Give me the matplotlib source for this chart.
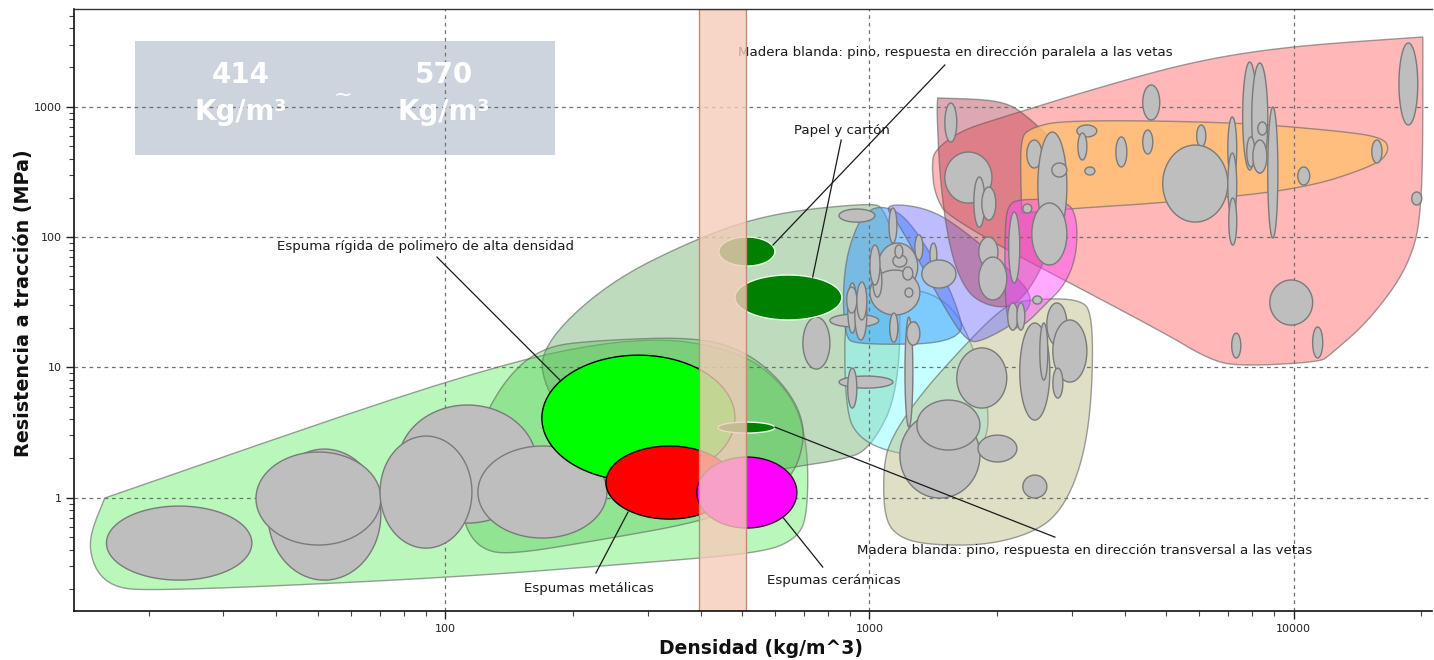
import numpy as np
import matplotlib
matplotlib.use("Agg")
import matplotlib.pyplot as plt
from matplotlib.patches import Rectangle
from matplotlib.colors import to_rgba
from matplotlib.ticker import LogLocator, NullFormatter, FixedLocator, FixedFormatter

# ---------------- data (density kg/m^3, tensile strength MPa) ----------------
x_ticks = [100, 1000, 10000]
x_tick_labels = ["100", "1000", "10000"]
y_ticks = [1, 10, 100, 1000]
y_tick_labels = ["1", "10", "100", "1000"]

band_lo, band_hi = 396, 511
band_text_lo = "414"
band_text_hi = "570"
band_unit = "Kg/m³"

# envelopes (outline vertices)
foam_env_dens = [15.75, 118.8, 287.7, 494.7, 649, 715.5, 715.5, 667.6, 552, 287.7, 100.4, 21.3, 15.75, 14.2]
foam_env_str = [0.993, 9.70, 17.7, 13.6, 6.69, 2.77, 0.71, 0.473, 0.376, 0.315, 0.2417, 0.192, 0.206, 0.433]

natural_env_dens = [167.2, 240.5, 398.1, 592.4, 1003, 1086, 1180, 1180, 1003, 851, 659.7, 494.7, 303.8, 207.7, 171.8]
natural_env_str = [14.3, 44.4, 100, 152.8, 182.4, 167, 66.6, 6.69, 2.32, 1.94, 1.72, 1.41, 1.63, 3.30, 6.69]

polyfoam_env_dens = [111.3, 120.7, 139.8, 231.6, 398.1, 552, 659.7, 704.7, 685.5, 615.2, 517, 398.1, 231.6, 167.2, 134.5, 114.3, 109.5]
polyfoam_env_str = [0.595, 0.410, 0.3625, 0.473, 0.65, 0.958, 1.44, 2.77, 4.70, 7.98, 12.9, 17.1, 16.2, 14.3, 7.31, 2.32, 0.958]

cyan_env_dens = [875, 1180, 1546, 1773, 1903, 1903, 1680, 1180, 949, 875]
cyan_env_str = [39.2, 42.8, 32.9, 13.6, 5.61, 2.77, 2.01, 2.12, 2.77, 4.70]

khaki_env_dens = [1086, 1077, 1117, 1315, 1697, 2031, 2262, 3135, 3365, 3346, 3186, 2889, 2522, 1923, 1389, 1180]
khaki_env_str = [0.673, 1.63, 2.77, 6.13, 15.4, 27.5, 32.9, 34.0, 25.2, 5.61, 1.94, 0.877, 0.564, 0.433, 0.433, 0.49]

blue_env_dens = [875, 865.5, 889, 959.5, 1059, 1213, 1426, 1591, 1697, 924]
blue_env_str = [17.7, 39.2, 79.5, 147.5, 176.1, 147.5, 66.6, 32.9, 15.4, 14.8]

purple_env_dens = [1070, 1389, 1726, 2145, 2454, 2262, 1871, 1697, 1466, 1180]
purple_env_str = [182.4, 167, 103.6, 55.8, 34.0, 23.1, 16.2, 15.4, 32.9, 123.6]

pink_env_dens = [1426, 1635, 2031, 3631, 6010, 9954, 20170, 20170, 18790, 15130, 12165, 11523, 7465, 6343, 4836, 1546, 1426, 1403]
pink_env_str = [465, 651, 819, 1467, 2282, 2923, 3428, 170, 61.0, 23.1, 12.4, 10.97, 10.2, 11.4, 19.3, 135, 210.1, 357]

rose_env_dens = [1449, 2064, 2389, 2843, 2921, 2663, 2389, 2145, 1871, 1680, 1546, 1466, 1442]
rose_env_str = [1166, 1126, 819, 465, 192.4, 79.5, 39.2, 28.5, 30.1, 39.2, 79.5, 273.9, 944]

orange_env_dens = [2287, 2262, 2389, 2889, 7071, 12165, 16240, 16870, 15730, 10337, 4836, 3135]
orange_env_str = [152.8, 555, 687, 791, 763, 662, 586, 465, 357, 229.6, 182.4, 167]

magenta_env_dens = [2119, 2262, 2889, 3084, 3084, 2889, 2592, 2325, 2145, 2086, 2086]
magenta_env_str = [176.1, 195.9, 192.4, 147.5, 72.8, 42.8, 30.1, 21.1, 19.3, 32.9, 113.2]

# gray material bubbles: density range and strength range
gray_dens_lo = [15.9, 38.2, 35.8, 77.4, 70.2, 119.4,
                848, 697, 848, 889, 807, 889, 924, 1117,
                1047, 1003, 1112, 1280, 1389, 1329, 1136, 1199, 1213, 884, 934, 1019, 1117, 1213, 1259, 1149, 1003,
                1506, 1506, 1763, 1841, 1811, 1811, 2130, 2350, 2495, 2415, 2692, 2300, 3084, 3101, 3221, 2427, 2119, 2227,
                4410, 3811, 4410, 5911, 4915, 6998, 6998, 7035, 7586, 7970, 7757, 8017, 8235, 8693, 10230, 15290, 17720, 18990,
                8790, 7148, 11090,
                1607, 1180, 1294, 1803, 2300, 2262, 2522, 2620, 2707, 2707, 1225]
gray_dens_hi = [35.0, 70.5, 70.5, 164.5, 115.6, 240.5,
                1030, 807, 1136, 934, 1052, 934, 986, 1167,
                1300, 1315, 1161, 1337, 1442, 1600, 1225, 1266, 1266, 934, 986, 1070, 1167, 1266, 1300, 1199, 1059,
                1607, 1945, 1871, 1986, 2009, 2108, 2262, 2550, 2921, 2921, 2921, 2415, 3436, 3256, 3401, 2550, 2239, 2325,
                4836, 4045, 4656, 6209, 6998, 7345, 7345, 7345, 8190, 8693, 8102, 8650, 8650, 9183, 10914, 16160, 19620, 20050,
                11090, 7508, 11713,
                2108, 1822, 1822, 2227, 2620, 2663, 2634, 2921, 3256, 2858, 1315]
gray_str_lo = [0.233, 0.233, 0.433, 0.638, 0.410, 0.49,
               130, 9.70, 6.93, 4.87, 20.4, 18.3, 16.2, 16.2,
               39.2, 25.2, 89.9, 66.6, 58.9, 40.6, 58.9, 46.8, 34.6, 26.1, 23.1, 34.6, 15.6, 3.48, 15.4, 69, 42.8,
               536, 182, 119, 135, 58.9, 32.9, 44.4, 338.5, 94.8, 61.0, 288.8, 152.8, 586, 389.9, 299, 30.6, 19.3, 19.3,
               791, 344.6, 433.5, 490.7, 130.3, 273.9, 142.4, 86.8, 326.8, 309.9, 344.6, 309.9, 606, 98.2, 250.7, 369.8, 724, 176.1,
               21.1, 11.8, 11.8,
               4.87, 0.993, 2.32, 1.88, 0.993, 3.94, 7.98, 14.8, 7.71, 5.81, 14.8]
gray_str_hi = [0.862, 2.36, 2.24, 5.14, 2.97, 2.49,
               164, 24.3, 8.57, 9.87, 25.6, 44.4, 39.2, 24.3,
               89.9, 55.8, 167, 104, 89.9, 66.6, 72.8, 58.9, 40.6, 41.3, 45.1, 61.0, 26.1, 24.3, 22.3, 87, 86.8,
               1067, 449, 289, 242, 100, 70.2, 155.6, 555, 639, 182.4, 369.8, 179.2, 724, 628, 344.6, 35.3, 31.2, 31.2,
               1467, 586, 662, 724, 508, 834, 441, 199.3, 2203, 2165, 586, 555, 763, 995, 344.6, 555, 3083, 221.6,
               46.8, 18.3, 20.4,
               14.1, 4.46, 5.61, 3.02, 1.49, 21.9, 21.9, 31.2, 23.1, 9.87, 22.3]

# highlighted materials
hl_names = ["Espuma rígida de polimero de alta densidad", "Espumas metálicas", "Espumas cerámicas",
            "Madera paralela", "Papel y cartón", "Madera transversal"]
hl_dens_lo = [169, 239.3, 391.8, 441.6, 481.9, 439.5]
hl_dens_hi = [482, 476.4, 674.5, 598.6, 861, 598.6]
hl_str_lo = [1.34, 0.685, 0.585, 59.9, 23.1, 3.13]
hl_str_hi = [12.4, 2.49, 2.05, 100, 51.1, 3.80]

# annotation labels: text, text position, leader start, leader end
ann_text = ["Espuma rígida de polimero de alta densidad",
            "Madera blanda: pino, respuesta en dirección paralela a las vetas",
            "Papel y cartón",
            "Madera blanda: pino, respuesta en dirección transversal a las vetas",
            "Espumas metálicas",
            "Espumas cerámicas"]
ann_x = [90.0, 1591, 861, 3221, 218.2, 824]
ann_y = [85.3, 2583, 662, 0.396, 0.2023, 0.233]
lead_x0 = [95.6, 1506, 858, 598.6, 226.6, 776.2]
lead_y0 = [70.2, 2089, 555, 3.48, 0.264, 0.2935]
lead_x1 = [186.4, 592.4, 735, 2737, 269.7, 624.6]
lead_y1 = [7.98, 86.8, 49.3, 0.498, 0.775, 0.71]

# ---------------- figure ----------------
W, H = 1434, 660
fig = plt.figure(figsize=(W / 100, H / 100), dpi=100)
ax = fig.add_axes([74 / W, 49 / H, 1358 / W, 602 / H])
ax.set_xscale("log")
ax.set_yscale("log")
ax.set_xlim(13.33, 21200)
ax.set_ylim(0.135, 5620)


def smooth(pts, sharp=(), n=3):
    flags = np.zeros(len(pts), bool)
    for s in sharp:
        flags[s] = True
    for _ in range(n):
        new, nf = [], []
        m = len(pts)
        for i in range(m):
            p, v, q = pts[i - 1], pts[i], pts[(i + 1) % m]
            if flags[i]:
                new.append(v)
                nf.append(True)
            else:
                new.append(0.25 * p + 0.75 * v)
                new.append(0.75 * v + 0.25 * q)
                nf += [False, False]
        pts = np.array(new)
        flags = np.array(nf)
    return pts


def envelope(dens, stren, color, alpha, z, sharp=(), ec=(0.38, 0.38, 0.38, 0.6)):
    L = np.column_stack([np.log10(dens), np.log10(stren)])
    S = smooth(L, sharp, 3)
    ax.fill(10 ** S[:, 0], 10 ** S[:, 1], facecolor=to_rgba(color, alpha),
            edgecolor=ec, lw=1.0, zorder=z)


def bubble(dlo, dhi, slo, shi, fc, ec, lw, z):
    t = np.linspace(0, 2 * np.pi, 160)
    cx = (np.log10(dlo) + np.log10(dhi)) / 2
    rx = (np.log10(dhi) - np.log10(dlo)) / 2
    cy = (np.log10(slo) + np.log10(shi)) / 2
    ry = (np.log10(shi) - np.log10(slo)) / 2
    ax.fill(10 ** (cx + rx * np.cos(t)), 10 ** (cy + ry * np.sin(t)),
            facecolor=fc, edgecolor=ec, lw=lw, zorder=z)


envelope(foam_env_dens, foam_env_str, "#66ee66", 0.45, 1.0, sharp=[0])
envelope(natural_env_dens, natural_env_str, "#70b070", 0.45, 1.1)
envelope(polyfoam_env_dens, polyfoam_env_str, "#40c040", 0.33, 1.2)
envelope(cyan_env_dens, cyan_env_str, "#80ffff", 0.45, 1.3)
envelope(khaki_env_dens, khaki_env_str, "#b8b880", 0.45, 1.4)
envelope(blue_env_dens, blue_env_str, "#40a0ff", 0.55, 1.5)
envelope(purple_env_dens, purple_env_str, "#6060ff", 0.42, 1.6)
envelope(pink_env_dens, pink_env_str, "#ff6060", 0.45, 1.7, sharp=[6])
envelope(rose_env_dens, rose_env_str, "#b03048", 0.42, 1.8, sharp=[0])
envelope(orange_env_dens, orange_env_str, "#ffc070", 0.80, 1.9, sharp=[0])
envelope(magenta_env_dens, magenta_env_str, "#ff40ff", 0.45, 1.95)

# grid lines (above envelopes, below bubbles)
for xv in x_ticks:
    ax.axvline(xv, color="#707070", lw=0.9, ls=(0, (3, 3)), zorder=2)
for yv in y_ticks:
    ax.axhline(yv, color="#707070", lw=0.9, ls=(0, (3, 3)), zorder=2)

for i in range(len(gray_dens_lo)):
    bubble(gray_dens_lo[i], gray_dens_hi[i], gray_str_lo[i], gray_str_hi[i],
           "#bebebe", "#7a7a7a", 1.0, 3)

hl_face = ["#00ff00", "#ff0000", "#ff00ff", "#008000", "#008000", "#008000"]
hl_edge = ["#000000", "#000000", "#300030", "#e8ffe8", "#e8ffe8", "#e8ffe8"]
for i in range(len(hl_dens_lo)):
    bubble(hl_dens_lo[i], hl_dens_hi[i], hl_str_lo[i], hl_str_hi[i],
           hl_face[i], hl_edge[i], 1.0, 3.5)

for i in range(len(ann_text)):
    ax.plot([lead_x0[i], lead_x1[i]], [lead_y0[i], lead_y1[i]], color="#1a1a1a", lw=0.9, zorder=4)
    ax.text(ann_x[i], ann_y[i], ann_text[i], fontsize=9.6, color="#1a1a1a",
            ha="center", va="center", zorder=4.2)

# highlighted density band
ax.axvspan(band_lo, band_hi, facecolor=to_rgba((245 / 255, 203 / 255, 185 / 255), 0.8),
           edgecolor="#c08c78", lw=1.0, zorder=5)

# info box
ax.add_patch(Rectangle((0.0449, 0.7575), 0.3093, 0.1893, transform=ax.transAxes,
                       facecolor="#cdd4dd", edgecolor="none", zorder=0.5))
for xc, val in [(0.123, band_text_lo), (0.2725, band_text_hi)]:
    ax.text(xc, 0.877, val, transform=ax.transAxes, ha="center", va="baseline",
            fontsize=20, fontweight="bold", color="white", zorder=2.5)
    ax.text(xc, 0.8156, band_unit, transform=ax.transAxes, ha="center", va="baseline",
            fontsize=20, fontweight="bold", color="white", zorder=2.5)
ax.text(0.198, 0.857, "~", transform=ax.transAxes, ha="center", va="center",
        fontsize=16, color="white", zorder=2.5)

# axes styling
ax.xaxis.set_major_locator(FixedLocator(x_ticks))
ax.xaxis.set_major_formatter(FixedFormatter(x_tick_labels))
ax.yaxis.set_major_locator(FixedLocator(y_ticks))
ax.yaxis.set_major_formatter(FixedFormatter(y_tick_labels))
ax.xaxis.set_minor_locator(LogLocator(base=10, subs=np.arange(2, 10)))
ax.yaxis.set_minor_locator(LogLocator(base=10, subs=np.arange(2, 10)))
ax.xaxis.set_minor_formatter(NullFormatter())
ax.yaxis.set_minor_formatter(NullFormatter())
ax.tick_params(which="major", direction="out", length=6, width=1, labelsize=8, colors="#222222", pad=3)
ax.tick_params(which="minor", direction="out", length=3.5, width=0.8, colors="#444444")
for s in ["left", "bottom"]:
    ax.spines[s].set_linewidth(1.2)
    ax.spines[s].set_color("#111111")
    ax.spines[s].set_zorder(6)
ax.spines["top"].set_linewidth(1.0)
ax.spines["top"].set_color("#333333")
ax.spines["top"].set_zorder(6)
ax.spines["right"].set_visible(False)

fig.text(761 / W, 1 - 648 / H, "Densidad (kg/m^3)", ha="center", va="center",
         fontsize=13.5, fontweight="bold", color="#111111")
fig.text(24 / W, 1 - 303 / H, "Resistencia a tracción (MPa)", ha="center", va="center",
         rotation=90, fontsize=13.8, fontweight="bold", color="#111111")

fig.savefig("out.png", dpi=100)
